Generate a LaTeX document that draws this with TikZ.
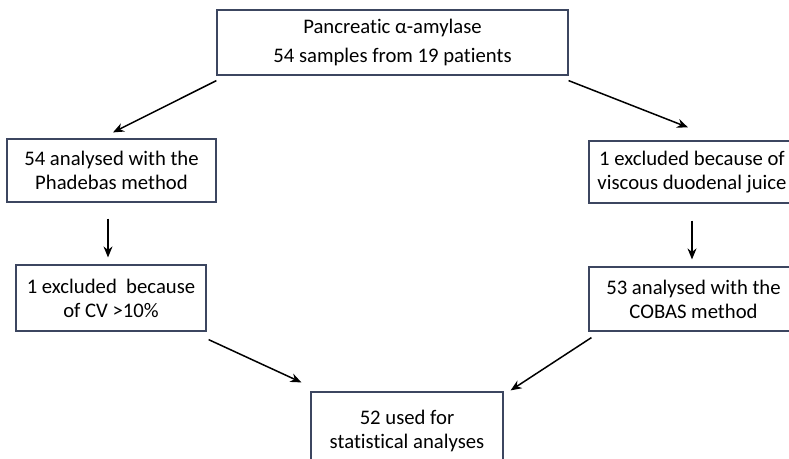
\documentclass[tikz,border=0pt]{standalone}
\usepackage{fontspec}
\setmainfont[Ligatures=NoCommon]{Carlito}
\usetikzlibrary{arrows.meta,calc}
\begin{document}
\begin{tikzpicture}[x=1pt,y=-1pt,
  box/.style={draw=boxcol,line width=1.2pt,rectangle,align=center,inner sep=0pt,
    font=\fontsize{20.7}{24}\selectfont,text=black},
  arr/.style={draw=black,line width=1.5pt,-{Stealth[length=11pt,width=9pt]}}]
\definecolor{boxcol}{HTML}{3C4660}
\useasboundingbox (0,0) rectangle (789,458);
\fill[white] (0,0) rectangle (789,458);
\node[box,minimum width=351pt,minimum height=65pt,font=\fontsize{20.7}{29}\selectfont] (top) at (392.5,42.5) {Pancreatic α-amylase\\54 samples from 19 patients};
\node[box,minimum width=209pt,minimum height=63pt] (l1) at (111.5,170.5) {54 analysed with the\\Phadebas method};
\node[box,minimum width=206pt,minimum height=62pt] (r1) at (692,172) {1 excluded because of\\viscous duodenal juice};
\node[box,minimum width=190pt,minimum height=66pt] (l2) at (111,298) {1 excluded\ \ because\\of CV >10\%};
\node[box,minimum width=209pt,minimum height=64pt] (r2) at (693.5,299) {53 analysed with the\\COBAS method};
\node[box,minimum width=192pt,minimum height=78pt] (bot) at (407,431) {52 used for\\statistical analyses};
\coordinate (a1s) at ($(top.south west)+(0,5)$);
\coordinate (a1e) at ($(l1.north)+(1.5,-6)$);
\coordinate (a2s) at ($(top.south east)+(0,5)$);
\coordinate (a2e) at ($(r1.north)+(-4,-13)$);
\coordinate (a3s) at ($(l1.south)+(-3.5,16)$);
\coordinate (a3e) at ($(l2.north)+(-3,-7)$);
\coordinate (a4s) at ($(r1.south)+(0,17)$);
\coordinate (a4e) at ($(r2.north)+(-1.5,-7)$);
\coordinate (a5s) at ($(l2.south east)+(2,8)$);
\coordinate (a5e) at ($(bot.north west)+(-9,-9)$);
\coordinate (a6s) at ($(r2.south west)+(3,6)$);
\coordinate (a6e) at ($(bot.north east)+(7,-1)$);
\draw[arr] (a1s) -- (a1e);
\draw[arr] (a2s) -- (a2e);
\draw[arr] (a3s) -- (a3e);
\draw[arr] (a4s) -- (a4e);
\draw[arr] (a5s) -- (a5e);
\draw[arr] (a6s) -- (a6e);
\end{tikzpicture}
\end{document}
